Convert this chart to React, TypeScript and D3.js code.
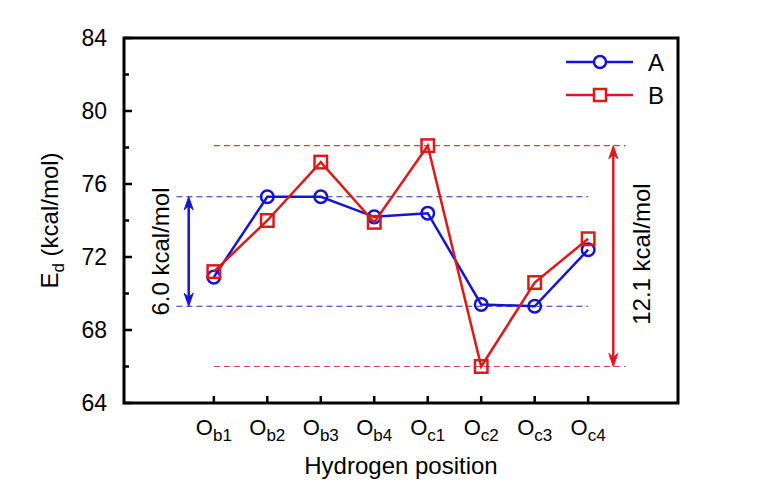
import React from "react";
import * as d3 from "d3";

const categories = ["b1", "b2", "b3", "b4", "c1", "c2", "c3", "c4"];
const seriesA = [70.9, 75.3, 75.3, 74.2, 74.4, 69.4, 69.3, 72.4];
const seriesB = [71.2, 74.0, 77.2, 73.9, 78.1, 66.0, 70.6, 73.0];
const yTicks = [64, 68, 72, 76, 80, 84];
const yMinorTicks = [66, 70, 74, 78, 82];
const rangeA = [69.3, 75.3];
const rangeB = [66.0, 78.1];
const labelA = "6.0 kcal/mol";
const labelB = "12.1 kcal/mol";

const BLUE = "#1515d0";
const RED = "#dd1a1a";
const FONT = "'Liberation Sans', Arial, Helvetica, sans-serif";

export default function App() {
  const W = 770, H = 495;
  const left = 124, right = 678, top = 38, bottom = 403;
  const x = d3.scaleLinear().domain([-1.68, 8.68]).range([left, right]);
  const y = d3.scaleLinear().domain([64, 84]).range([bottom, top]);
  const line = d3.line<number>().x((_, i) => x(i)).y((d) => y(d));

  const arrow = (xv: number, y1: number, y2: number, color: string) => {
    const xa = x(xv), ya = y(y1), yb = y(y2);
    const L = 13, hw = 4.5;
    return (
      <g>
        <line x1={xa} x2={xa} y1={ya + 6} y2={yb - 6} stroke={color} strokeWidth={2.5} />
        <path d={`M${xa},${ya} L${xa - hw},${ya + L} L${xa},${ya + L - 4} L${xa + hw},${ya + L} Z`} fill={color} stroke={color} strokeWidth={1} />
        <path d={`M${xa},${yb} L${xa - hw},${yb - L} L${xa},${yb - L + 4} L${xa + hw},${yb - L} Z`} fill={color} stroke={color} strokeWidth={1} />
      </g>
    );
  };

  const sq = 12.5;
  return (
    <svg width={W} height={H} style={{ position: "absolute", left: 0, top: 0, background: "#fff" }} fontFamily={FONT}>
      <rect x={0} y={0} width={W} height={H} fill="#fff" />
      {rangeA.map((v, i) => (
        <line key={"da" + i} x1={x(-0.7)} x2={x(7)} y1={y(v)} y2={y(v)} stroke="#2a2aa8" strokeWidth={1.1} strokeDasharray="6,4" />
      ))}
      {rangeB.map((v, i) => (
        <line key={"db" + i} x1={x(0)} x2={x(7.7)} y1={y(v)} y2={y(v)} stroke="#c04848" strokeWidth={1.2} strokeDasharray="6,4" />
      ))}
      {arrow(-0.47, rangeA[1], rangeA[0], BLUE)}
      {arrow(7.47, rangeB[1], rangeB[0], RED)}
      <text transform={`translate(${x(-1.0)},${y((rangeA[0] + rangeA[1]) / 2)}) rotate(-90)`} textAnchor="middle" dominantBaseline="central" fontSize={24} fill="#000">{labelA}</text>
      <text transform={`translate(${x(8.0)},${y((rangeB[0] + rangeB[1]) / 2) - 2}) rotate(-90)`} textAnchor="middle" dominantBaseline="central" fontSize={24} fill="#000">{labelB}</text>

      <path d={line(seriesA) || ""} fill="none" stroke={BLUE} strokeWidth={2.5} />
      {seriesA.map((v, i) => (
        <circle key={"a" + i} cx={x(i)} cy={y(v)} r={6.3} fill="none" stroke={BLUE} strokeWidth={2.5} />
      ))}
      <path d={line(seriesB) || ""} fill="none" stroke={RED} strokeWidth={2.5} />
      {seriesB.map((v, i) => (
        <rect key={"b" + i} x={x(i) - sq / 2} y={y(v) - sq / 2} width={sq} height={sq} fill="none" stroke={RED} strokeWidth={2.5} />
      ))}

      <rect x={left} y={top} width={right - left} height={bottom - top} fill="none" stroke="#000" strokeWidth={3} />
      {yTicks.map((t) => (
        <g key={"yt" + t}>
          <line x1={left} x2={left + 8} y1={y(t)} y2={y(t)} stroke="#000" strokeWidth={2.5} />
          <text x={left - 17} y={y(t)} textAnchor="end" dominantBaseline="central" fontSize={23}>{t}</text>
        </g>
      ))}
      {yMinorTicks.map((t) => (
        <line key={"ym" + t} x1={left} x2={left + 5} y1={y(t)} y2={y(t)} stroke="#000" strokeWidth={2.5} />
      ))}
      {categories.map((c, i) => (
        <g key={"xt" + c}>
          <line x1={x(i)} x2={x(i)} y1={bottom} y2={bottom - 7} stroke="#000" strokeWidth={2.5} />
          <text x={x(i)} y={435} textAnchor="middle" fontSize={22}>
            O<tspan fontSize={17} dy={6}>{c}</tspan>
          </text>
        </g>
      ))}
      <text x={(left + right) / 2} y={474} textAnchor="middle" fontSize={24}>Hydrogen position</text>
      <text transform={`translate(58,${(top + bottom) / 2}) rotate(-90)`} textAnchor="middle" fontSize={24}>
        E<tspan fontSize={17} dy={6}>d</tspan><tspan dy={-6}> (kcal/mol)</tspan>
      </text>

      <line x1={566} x2={633} y1={62} y2={62} stroke={BLUE} strokeWidth={2.5} />
      <circle cx={600} cy={62} r={6} fill="#fff" stroke={BLUE} strokeWidth={2.5} />
      <text x={648} y={62} dominantBaseline="central" fontSize={24}>A</text>
      <line x1={566} x2={633} y1={95} y2={95} stroke={RED} strokeWidth={2.5} />
      <rect x={600 - 6} y={95 - 6} width={12} height={12} fill="#fff" stroke={RED} strokeWidth={2.5} />
      <text x={648} y={95} dominantBaseline="central" fontSize={24}>B</text>
    </svg>
  );
}
